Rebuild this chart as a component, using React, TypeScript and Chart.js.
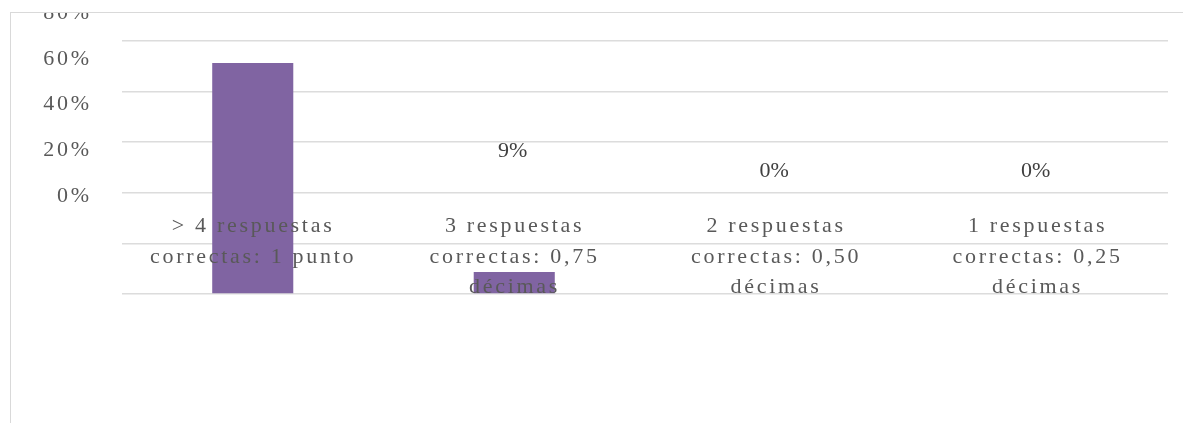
import React, { useEffect, useRef } from "react";
import { Chart, registerables } from "chart.js";

Chart.register(...registerables);

const categories: string[][] = [
  ["> 4 respuestas", "correctas: 1 punto"],
  ["3 respuestas", "correctas: 0,75", "décimas"],
  ["2 respuestas", "correctas: 0,50", "décimas"],
  ["1 respuestas", "correctas: 0,25", "décimas"],
];
const values: number[] = [0.913, 0.087, 0, 0];
const tickValues: number[] = [0, 0.2, 0.4, 0.6, 0.8, 1.0];
const tickLabels: string[] = ["0%", "20%", "40%", "60%", "80%", "100%"];

const FONT = "22px 'Liberation Serif', 'Times New Roman', serif";
const SPACING = 2.7;

const labelPlugin = {
  id: "ghostLabels",
  afterDatasetsDraw(chart: any) {
    const ctx = chart.ctx as CanvasRenderingContext2D;
    const xs = chart.scales.x;
    const y2 = chart.scales.y2;
    const area = chart.chartArea;
    ctx.save();
    ctx.font = FONT;
    ctx.textBaseline = "alphabetic";
    (ctx as any).letterSpacing = SPACING + "px";
    ctx.fillStyle = "#595959";
    // value axis labels (as rendered in the reference)
    ctx.textAlign = "right";
    tickValues.forEach((v, i) => {
      ctx.fillText(tickLabels[i], area.left - 33 + SPACING, y2.getPixelForValue(v));
    });
    // category labels
    ctx.textAlign = "center";
    const base = y2.getPixelForValue(0);
    categories.forEach((lines, i) => {
      const cx = xs.getPixelForValue(i) + SPACING / 2 - 1;
      lines.forEach((line, k) => {
        ctx.fillText(line, cx, base + 30.5 * (k + 1));
      });
    });
    // data labels
    (ctx as any).letterSpacing = "0px";
    ctx.fillStyle = "#404040";
    values.forEach((v, i) => {
      const cx = xs.getPixelForValue(i) - 1.5;
      ctx.fillText(Math.round(v * 100) + "%", cx, y2.getPixelForValue(v) - 24.7);
    });
    ctx.restore();
  },
};

export default function App() {
  const ref = useRef<HTMLCanvasElement | null>(null);
  useEffect(() => {
    if (!ref.current) return;
    const chart = new Chart(ref.current, {
      type: "bar",
      data: {
        labels: categories,
        datasets: [
          {
            data: values,
            backgroundColor: "#8064A2",
            borderWidth: 0,
            barPercentage: 0.31,
            categoryPercentage: 1,
            yAxisID: "y",
          },
        ],
      },
      options: {
        animation: false,
        responsive: false,
        devicePixelRatio: 1,
        layout: { padding: { left: 111, top: 28, right: 15, bottom: 129 } },
        plugins: {
          legend: { display: false },
          tooltip: { enabled: false },
        },
        scales: {
          x: { display: false },
          y: {
            type: "linear",
            min: 0,
            max: 1,
            ticks: { display: false, stepSize: 0.2 },
            grid: { color: "#dcdcdc", lineWidth: 1.5, drawTicks: false },
            border: { display: false },
          },
          y2: {
            type: "linear",
            display: false,
            min: -0.404,
            max: 0.703,
          },
        },
      },
      plugins: [labelPlugin],
    });
    return () => chart.destroy();
  }, []);
  return (
    <div
      style={{
        position: "fixed",
        left: 0,
        top: 0,
        width: "100vw",
        height: "100vh",
        overflow: "hidden",
        background: "#ffffff",
      }}
    >
      <div
        style={{
          position: "absolute",
          left: 10,
          top: 12,
          width: 1400,
          height: 600,
          borderTop: "1px solid #d9d9d9",
          borderLeft: "1px solid #d9d9d9",
        }}
      >
        <canvas
          ref={ref}
          width={1172}
          height={410}
          style={{ position: "absolute", left: 0, top: 0, width: 1172, height: 410 }}
        />
      </div>
    </div>
  );
}
